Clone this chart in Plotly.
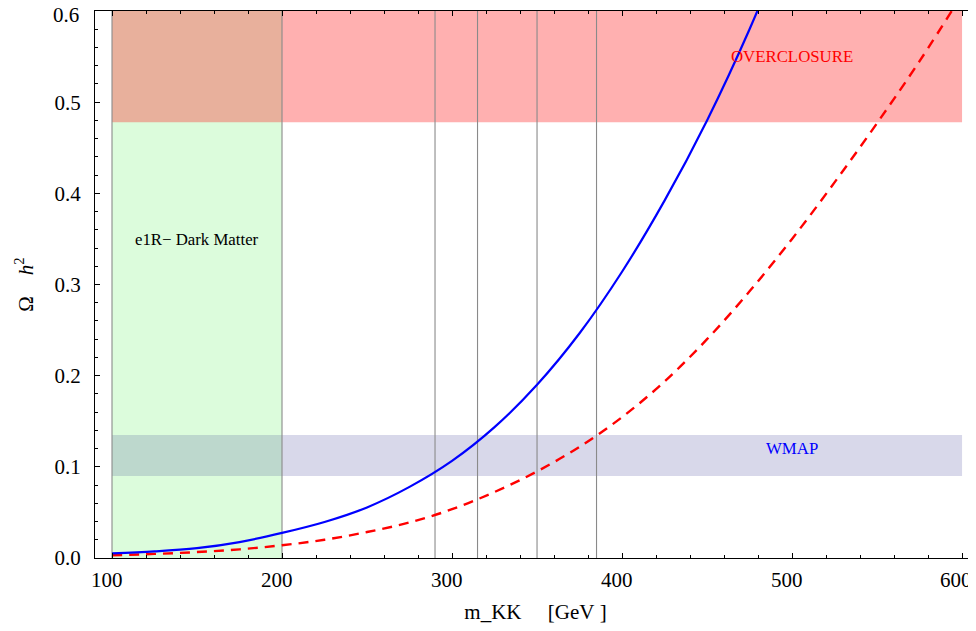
import plotly.graph_objects as go

# ---- data ----
mkk_blue = [100, 125, 150, 175, 200, 225, 250, 275, 300, 325, 350, 375, 400, 425, 450, 475, 500]
omega_blue = [0.005, 0.0072, 0.0108, 0.0175, 0.0275, 0.0395, 0.0555, 0.078, 0.1065, 0.1435, 0.190,
              0.2465, 0.314, 0.392, 0.480, 0.580, 0.693]

mkk_red = [100, 125, 150, 175, 200, 225, 250, 275, 300, 325, 350, 375, 400, 425, 450, 475,
           500, 525, 550, 575, 600]
omega_red = [0.003, 0.0045, 0.0065, 0.0095, 0.014, 0.020, 0.0285, 0.039, 0.0535, 0.0724, 0.095,
             0.122, 0.1545, 0.1936, 0.240, 0.2925, 0.350, 0.412, 0.477, 0.545, 0.618]

vlines_x = [100, 200, 290, 315, 350, 385]

dm_region_x = [100, 200]          # e1R dark matter region
band_x = [100, 600]
overclosure_y = [0.478, 0.6]
wmap_y = [0.09, 0.135]
y_top = 0.6

x_ticks = [100, 200, 300, 400, 500, 600]
x_tick_labels = ["100", "200", "300", "400", "500", "600"]
y_ticks = [0.0, 0.1, 0.2, 0.3, 0.4, 0.5, 0.6]
y_tick_labels = ["0.0", "0.1", "0.2", "0.3", "0.4", "0.5", "0.6"]

labels = {
    "overclosure": ("OVERCLOSURE", 500, 0.55, "#ff0000"),
    "wmap": ("WMAP", 500, 0.12, "#0000ff"),
    "dm": ("e1R\u2212 Dark Matter", 150, 0.349, "#000000"),
}

C_GREEN = "#dcfcdc"
C_RED = "#ffb0b0"
C_RED_GREEN = "#e8b09c"
C_WMAP = "#d8d8ea"
C_WMAP_GREEN = "#bdd8cd"
FONT = "Liberation Serif"
NB = "\u00a0"

fig = go.Figure()

fig.add_trace(go.Scatter(x=mkk_red, y=omega_red, mode="lines",
                         line=dict(color="#ff0000", width=2.4, dash="10px,7px", shape="spline", smoothing=1.0),
                         showlegend=False, hoverinfo="skip"))
fig.add_trace(go.Scatter(x=mkk_blue, y=omega_blue, mode="lines",
                         line=dict(color="#0000ff", width=2.2, shape="spline", smoothing=1.0),
                         showlegend=False, hoverinfo="skip"))

shapes = []
def rect(x0, x1, y0, y1, color):
    shapes.append(dict(type="rect", xref="x", yref="y", x0=x0, x1=x1, y0=y0, y1=y1,
                       fillcolor=color, line=dict(width=0), layer="below"))

rect(dm_region_x[0], dm_region_x[1], 0, y_top, C_GREEN)
rect(dm_region_x[1], band_x[1], overclosure_y[0], overclosure_y[1], C_RED)
rect(dm_region_x[0], dm_region_x[1], overclosure_y[0], overclosure_y[1], C_RED_GREEN)
rect(dm_region_x[1], band_x[1], wmap_y[0], wmap_y[1], C_WMAP)
rect(dm_region_x[0], dm_region_x[1], wmap_y[0], wmap_y[1], C_WMAP_GREEN)
for xv in vlines_x:
    shapes.append(dict(type="line", xref="x", yref="y", x0=xv, x1=xv, y0=0, y1=y_top,
                       line=dict(color="#8a8a8a", width=1.1), layer="below"))

annotations = []
for key, (txt, ax, ay, col) in labels.items():
    annotations.append(dict(x=ax, y=ay, xref="x", yref="y", text=txt, showarrow=False,
                            font=dict(family=FONT, size=16.8, color=col)))

# edge tick labels drawn as annotations so they stay inside the page (as in the reference)
annotations.append(dict(x=0, xref="paper", y=y_ticks[-1], yref="y", text=y_tick_labels[-1],
                        showarrow=False, xanchor="right", yanchor="middle", xshift=-14, yshift=-4,
                        font=dict(family=FONT, size=21, color="black")))
annotations.append(dict(x=x_ticks[-1], xref="x", y=0, yref="paper", text=x_tick_labels[-1],
                        showarrow=False, xanchor="center", yanchor="middle", xshift=-6, yshift=-22,
                        font=dict(family=FONT, size=21, color="black")))

# the page body has an 8px margin, so the figure is sized/offset to compensate
fig.update_layout(
    width=968, height=623,
    margin=dict(l=87, r=0, t=3, b=73),
    paper_bgcolor="white", plot_bgcolor="white",
    font=dict(family=FONT, size=21, color="black"),
    shapes=shapes, annotations=annotations,
    showlegend=False,
)

fig.update_xaxes(
    range=[90, 608.2], tickmode="array", tickvals=x_ticks,
    ticktext=[t + NB + NB for t in x_tick_labels[:-1]] + [""],
    ticks="inside", ticklen=5, tickwidth=1, tickcolor="black",
    minor=dict(ticks="inside", ticklen=3, tick0=0, dtick=20, tickwidth=1, tickcolor="black", showgrid=False),
    showline=True, linecolor="black", linewidth=1.3, mirror="ticks",
    showgrid=False, zeroline=False, ticklabelstandoff=3, ticklabeloverflow="allow",
    automargin=False,
    title=dict(text="m_KK" + NB * 5 + "[GeV" + NB + "]", standoff=12,
               font=dict(family=FONT, size=21)),
)
fig.update_yaxes(
    range=[0, y_top], tickmode="array", tickvals=y_ticks, ticktext=y_tick_labels[:-1] + [""],
    ticks="inside", ticklen=5, tickwidth=1, tickcolor="black",
    minor=dict(ticks="inside", ticklen=3, tick0=0, dtick=0.02, tickwidth=1, tickcolor="black", showgrid=False),
    showline=True, linecolor="black", linewidth=1.3,
    showgrid=False, zeroline=False, ticklabelstandoff=9, ticklabeloverflow="allow",
    automargin=False,
    title=dict(text="\u03a9" + NB * 4 + "<i>h</i><sup>2</sup>", standoff=15,
               font=dict(family=FONT, size=21)),
)

fig.write_html("out.html")
